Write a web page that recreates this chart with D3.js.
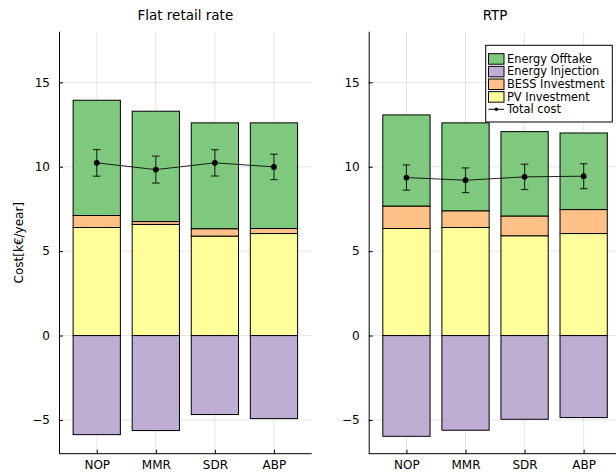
<!DOCTYPE html>
<html><head><meta charset="utf-8">
<script src="https://cdn.jsdelivr.net/npm/d3@7"></script>
<style>body{margin:0;background:#fff}svg{display:block}text{font-family:"DejaVu Sans",sans-serif;fill:#000}</style>
</head><body>
<svg id="c" width="616" height="473"></svg>
<script>
const categories = ["NOP", "MMR", "SDR", "ABP"];
const yTicks = [-5, 0, 5, 10, 15];
const panelTitles = ["Flat retail rate", "RTP"];
const seriesNames = ["Energy Offtake", "Energy Injection", "BESS Investment", "PV Investment", "Total cost"];
const seriesColors = ["#7fc97f", "#beaed4", "#fdc086", "#ffff99"];

// Flat retail rate
const flatPV = [6.40, 6.58, 5.88, 6.04];
const flatBESS = [0.71, 0.17, 0.44, 0.30];
const flatOfftake = [6.83, 6.54, 6.28, 6.26];
const flatInjection = [-5.87, -5.63, -4.68, -4.92];
const flatTotal = [10.23, 9.83, 10.23, 9.99];
const flatErr = [0.79, 0.80, 0.78, 0.75];

// RTP
const rtpPV = [6.34, 6.40, 5.90, 6.04];
const rtpBESS = [1.32, 0.98, 1.17, 1.42];
const rtpOfftake = [5.41, 5.22, 5.01, 4.54];
const rtpInjection = [-5.97, -5.61, -4.96, -4.86];
const rtpTotal = [9.36, 9.20, 9.40, 9.44];
const rtpErr = [0.75, 0.73, 0.75, 0.74];

const panels = [
  {title: panelTitles[0], pv: flatPV, bess: flatBESS, off: flatOfftake, inj: flatInjection, tot: flatTotal, err: flatErr, x0: 59},
  {title: panelTitles[1], pv: rtpPV, bess: rtpBESS, off: rtpOfftake, inj: rtpInjection, tot: rtpTotal, err: rtpErr, x0: 368.7}
];

const svg = d3.select("#c");
const yTop = 31.7, yBot = 453.7, pw = 252.7;
const y = d3.scaleLinear().domain([-7, 18]).range([yBot, yTop]);

// y label
svg.append("text").attr("transform", `translate(23,${(yTop+yBot)/2}) rotate(-90)`)
  .attr("text-anchor", "middle").attr("font-size", 12).text("Cost[k€/year]");

panels.forEach((p, pi) => {
  const x = d3.scalePoint().domain(categories).range([p.x0, p.x0 + pw]).padding(0.639);
  const bw = x.step() * 0.8;
  const g = svg.append("g");
  // grid
  g.selectAll(".hg").data(yTicks).join("line")
    .attr("x1", p.x0).attr("x2", p.x0 + pw).attr("y1", d => y(d)).attr("y2", d => y(d))
    .attr("stroke", "#000").attr("stroke-opacity", 0.1).attr("stroke-width", 1);
  g.selectAll(".vg").data(categories).join("line")
    .attr("x1", d => x(d)).attr("x2", d => x(d)).attr("y1", yTop).attr("y2", yBot)
    .attr("stroke", "#000").attr("stroke-opacity", 0.1).attr("stroke-width", 1);

  // bars
  const rows = categories.map((c, i) => ({c, i}));
  const stacks = [
    {vals: p.off, base: i => p.pv[i] + p.bess[i], col: seriesColors[0]},
    {vals: p.inj, base: i => 0, col: seriesColors[1]},
    {vals: p.bess, base: i => p.pv[i], col: seriesColors[2]},
    {vals: p.pv, base: i => 0, col: seriesColors[3]}
  ];
  stacks.forEach(s => {
    g.selectAll(null).data(rows).join("rect")
      .attr("x", d => x(d.c) - bw / 2).attr("width", bw)
      .attr("y", d => y(Math.max(s.base(d.i), s.base(d.i) + s.vals[d.i])))
      .attr("height", d => Math.abs(y(s.base(d.i)) - y(s.base(d.i) + s.vals[d.i])))
      .attr("fill", s.col).attr("stroke", "#000").attr("stroke-width", 1);
  });

  // total cost line + error bars
  const line = d3.line().x(d => x(d.c)).y(d => y(p.tot[d.i]));
  g.append("path").datum(rows).attr("d", line).attr("fill", "none")
    .attr("stroke", "#000").attr("stroke-width", 1).attr("stroke-opacity", 0.85);
  const eb = g.selectAll(null).data(rows).join("g").attr("stroke", "#000").attr("stroke-opacity", 0.75).attr("stroke-width", 1.2);
  eb.append("line").attr("x1", d => x(d.c)).attr("x2", d => x(d.c))
    .attr("y1", d => y(p.tot[d.i] - p.err[d.i])).attr("y2", d => y(p.tot[d.i] + p.err[d.i]));
  [1, -1].forEach(sg => {
    eb.append("line").attr("x1", d => x(d.c) - 3.8).attr("x2", d => x(d.c) + 3.8)
      .attr("y1", d => y(p.tot[d.i] + sg * p.err[d.i])).attr("y2", d => y(p.tot[d.i] + sg * p.err[d.i]));
  });
  g.selectAll(null).data(rows).join("circle")
    .attr("cx", d => x(d.c)).attr("cy", d => y(p.tot[d.i])).attr("r", 2.9).attr("fill", "#000");

  // axes
  const ya = d3.axisLeft(y).tickValues(yTicks).tickSize(-4).tickPadding(9).tickFormat(d3.format("d"));
  const yg = g.append("g").attr("transform", `translate(${p.x0},0)`).call(ya);
  yg.select(".domain").attr("d", `M0.5,${yTop}V${yBot}`).attr("stroke", "#000");
  yg.selectAll("text").attr("font-size", 12).attr("font-family", "DejaVu Sans");
  const xa = d3.axisBottom(x).tickSize(-4).tickPadding(7);
  const xg = g.append("g").attr("transform", `translate(0,${yBot})`).call(xa);
  xg.select(".domain").attr("d", `M${p.x0},0H${p.x0 + pw}`).attr("stroke", "#000");
  xg.selectAll("text").attr("font-size", 12).attr("font-family", "DejaVu Sans");

  // title
  svg.append("text").attr("x", p.x0 + pw / 2).attr("y", 20).attr("text-anchor", "middle")
    .attr("font-size", 13.5).text(p.title);

  // legend in second panel
  if (pi === 1) {
    const lx = 485.7, ly = 45.3, lw = 126.6, lh = 76.7, rh = 12.65;
    const lg = svg.append("g");
    lg.append("rect").attr("x", lx).attr("y", ly).attr("width", lw).attr("height", lh)
      .attr("fill", "#fff").attr("stroke", "#000").attr("stroke-width", 1);
    seriesNames.forEach((nm, k) => {
      const cy = 58.7 + k * rh;
      if (k < 4) {
        lg.append("rect").attr("x", 488.5).attr("y", cy - 5).attr("width", 15.5).attr("height", 10.5)
          .attr("fill", seriesColors[k]).attr("stroke", "#000").attr("stroke-width", 1);
      } else {
        lg.append("line").attr("x1", 488.5).attr("x2", 504).attr("y1", cy).attr("y2", cy).attr("stroke", "#000");
        lg.append("circle").attr("cx", 496.3).attr("cy", cy).attr("r", 1.8).attr("fill", "#000");
      }
      lg.append("text").attr("x", 507).attr("y", cy).attr("dy", "0.36em").attr("font-size", 11.4).text(nm);
    });
  }
});
</script>
</body></html>
